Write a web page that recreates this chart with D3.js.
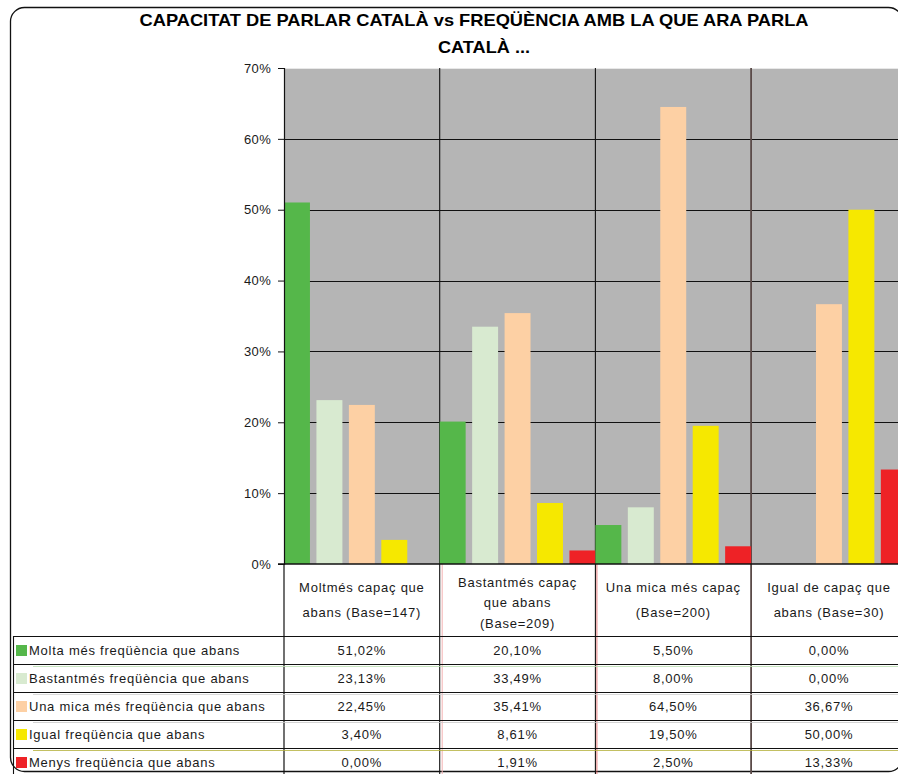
<!DOCTYPE html>
<html>
<head>
<meta charset="utf-8">
<script src="https://cdn.jsdelivr.net/npm/d3@7"></script>
<style>
  html, body { margin: 0; padding: 0; background: #fff; }
  svg { display: block; }
  text { font-family: "Liberation Sans", Arial, sans-serif; fill: #1a1a1a; }
</style>
</head>
<body>
<svg id="chart" width="898" height="774"></svg>
<script>
// ---------- DATA ----------
const titleLines = ["CAPACITAT DE PARLAR CATALÀ vs FREQÜÈNCIA AMB LA QUE ARA PARLA", "CATALÀ ..."];
const categories = ["Moltmés capaç que abans (Base=147)", "Bastantmés capaç que abans (Base=209)", "Una mica més capaç (Base=200)", "Igual de capaç que abans (Base=30)"];
const categoryLines = [
  ["Moltmés capaç que", "abans (Base=147)"],
  ["Bastantmés capaç", "que abans", "(Base=209)"],
  ["Una mica més capaç", "(Base=200)"],
  ["Igual de capaç que", "abans (Base=30)"]
];
const seriesNames = [
  "Molta més freqüència que abans",
  "Bastantmés freqüència que abans",
  "Una mica més freqüència que abans",
  "Igual freqüència que abans",
  "Menys freqüència que abans"
];
const moltaMes   = [51.02, 20.10, 5.50, 0.00];
const bastantMes = [23.13, 33.49, 8.00, 0.00];
const unaMicaMes = [22.45, 35.41, 64.50, 36.67];
const igual      = [3.40, 8.61, 19.50, 50.00];
const menys      = [0.00, 1.91, 2.50, 13.33];
const seriesValues = [moltaMes, bastantMes, unaMicaMes, igual, menys];
const yTicks = [0, 10, 20, 30, 40, 50, 60, 70];

// ---------- STYLE ----------
const seriesColors = ["#55b74a", "#d8ead0", "#fdd0a4", "#f6e800", "#ee2226"];
const plotBg = "#b5b5b5";
const bodyFont = "13px";
const bodySpacing = "0.75px";

// ---------- LAYOUT ----------
const svg = d3.select("#chart");
const plotLeft = 284, plotTop = 68, plotBottom = 564;
const colW = 155.7;
const plotRight = plotLeft + colW * categories.length;
const headerBottom = 636;
const rowH = 28;
const tableLeft = 13;

const y = d3.scaleLinear().domain([0, 70]).range([plotBottom, plotTop]);
const x0 = d3.scaleBand().domain(d3.range(categories.length)).range([plotLeft, plotRight]).padding(0);
const x1 = d3.scaleBand().domain(d3.range(seriesNames.length)).range([0, x0.bandwidth()]).paddingInner(0.2).paddingOuter(0);

const locale = d3.formatLocale({decimal: ",", thousands: ".", grouping: [3], currency: ["", "€"]});
const fmt = v => locale.format(".2f")(v) + "%";

// outer border
svg.append("rect")
  .attr("x", 10.5).attr("y", 7.5).attr("width", 892).attr("height", 764)
  .attr("rx", 14).attr("ry", 14)
  .attr("fill", "#fff").attr("stroke", "#111").attr("stroke-width", 1.3);

// title
const title = svg.append("text").attr("text-anchor", "middle")
  .style("font-size", "17px").style("font-weight", "bold").style("fill", "#000");
title.append("tspan").attr("x", 474).attr("y", 26).text(titleLines[0])
  .attr("textLength", 669).attr("lengthAdjust", "spacingAndGlyphs");
title.append("tspan").attr("x", 484).attr("y", 53).text(titleLines[1])
  .attr("textLength", 92).attr("lengthAdjust", "spacingAndGlyphs");

// plot background
svg.append("rect")
  .attr("x", plotLeft).attr("y", plotTop)
  .attr("width", plotRight - plotLeft).attr("height", plotBottom - plotTop)
  .attr("fill", plotBg);
svg.append("line").attr("x1", plotLeft).attr("x2", plotRight)
  .attr("y1", plotTop + 0.5).attr("y2", plotTop + 0.5)
  .attr("stroke", "#e8e8e8").attr("stroke-width", 1);

// horizontal gridlines
svg.append("g").selectAll("line")
  .data(yTicks.filter(t => t > 0 && t < 70))
  .join("line")
  .attr("x1", plotLeft).attr("x2", plotRight)
  .attr("y1", d => Math.round(y(d)) + 0.5).attr("y2", d => Math.round(y(d)) + 0.5)
  .attr("stroke", "#111").attr("stroke-width", 1);

// vertical category separators (plot + table)
svg.append("g").selectAll("line")
  .data(d3.range(1, categories.length))
  .join("line")
  .attr("x1", d => x0(d)).attr("x2", d => x0(d))
  .attr("y1", plotTop).attr("y2", 774)
  .attr("stroke", d => d === 3 ? "#5a4a48" : "#111")
  .attr("stroke-width", d => d === 3 ? 1.8 : 1.1);

// faint coloured table artefacts
svg.append("line").attr("x1", x0(1) + 2.5).attr("x2", x0(1) + 2.5)
  .attr("y1", plotBottom).attr("y2", 774).attr("stroke", "#f3b3b3").attr("stroke-width", 1);
svg.append("line").attr("x1", x0(2) + 1.5).attr("x2", x0(2) + 1.5)
  .attr("y1", plotBottom).attr("y2", 774).attr("stroke", "#e06060").attr("stroke-width", 0.8);

// bars
const groups = svg.append("g").selectAll("g")
  .data(categories.map((c, i) => i))
  .join("g")
  .attr("transform", i => `translate(${x0(i)},0)`);
groups.selectAll("rect")
  .data(i => seriesValues.map((vals, s) => ({s, v: vals[i]})))
  .join("rect")
  .attr("x", d => x1(d.s))
  .attr("width", x1.bandwidth())
  .attr("y", d => y(d.v))
  .attr("height", d => y(0) - y(d.v))
  .attr("fill", d => seriesColors[d.s]);

// y axis
const yAxis = d3.axisLeft(y).tickValues(yTicks).tickFormat(d => d + "%").tickSize(6).tickPadding(7);
const gy = svg.append("g").attr("transform", `translate(${plotLeft},0)`).call(yAxis);
gy.select(".domain").attr("stroke", "#111").attr("stroke-width", 1.2);
gy.selectAll(".tick line").attr("stroke", "#111");
gy.selectAll(".tick text").style("font-size", "13px").style("letter-spacing", "0.3px")
  .style("font-family", "'Liberation Sans', Arial, sans-serif").attr("fill", "#1a1a1a");

// left axis line extended through table
svg.append("line").attr("x1", plotLeft).attr("x2", plotLeft)
  .attr("y1", plotBottom).attr("y2", 774).attr("stroke", "#111").attr("stroke-width", 1.2);

// zero baseline
svg.append("line").attr("x1", plotLeft - 6).attr("x2", plotRight)
  .attr("y1", y(0)).attr("y2", y(0)).attr("stroke", "#111").attr("stroke-width", 1.4);

// category header labels
const catText = svg.append("g").selectAll("text")
  .data(categoryLines)
  .join("text")
  .attr("text-anchor", "middle")
  .style("font-size", bodyFont)
  .style("letter-spacing", bodySpacing);
catText.each(function(lines, i) {
  const cx = x0(i) + x0.bandwidth() / 2;
  const lh = lines.length === 3 ? 20.5 : 25;
  const mid = (plotBottom + headerBottom) / 2 + (lines.length === 3 ? 7 : 4);
  const start = mid - lh * (lines.length - 1) / 2;
  d3.select(this).selectAll("tspan").data(lines).join("tspan")
    .attr("x", cx).attr("y", (d, k) => start + k * lh).text(d => d);
});

// table horizontal lines
const rowLines = d3.range(seriesNames.length + 1).map(k => headerBottom + k * rowH);
svg.append("g").selectAll("line")
  .data(rowLines)
  .join("line")
  .attr("x1", tableLeft).attr("x2", plotRight)
  .attr("y1", d => d + 0.5).attr("y2", d => d + 0.5)
  .attr("stroke", "#111").attr("stroke-width", 1.1);
// subtle coloured under-lines
const underColors = ["#b9ddb0", "#cfcfcf", "#c8c8c8", "#b4b03a"];
svg.append("g").selectAll("line")
  .data(underColors)
  .join("line")
  .attr("x1", tableLeft + 20).attr("x2", plotRight)
  .attr("y1", (d, k) => headerBottom + (k + 1) * rowH + 2.5)
  .attr("y2", (d, k) => headerBottom + (k + 1) * rowH + 2.5)
  .attr("stroke", d => d).attr("stroke-width", 0.8);

// table left line
svg.append("line").attr("x1", tableLeft + 0.5).attr("x2", tableLeft + 0.5)
  .attr("y1", headerBottom).attr("y2", 774).attr("stroke", "#111").attr("stroke-width", 1.1);

// legend rows
const rows = svg.append("g").selectAll("g")
  .data(seriesNames.map((n, s) => s))
  .join("g")
  .attr("transform", s => `translate(0,${headerBottom + s * rowH})`);
rows.append("rect")
  .attr("x", 16).attr("y", 9).attr("width", 11).attr("height", 11)
  .attr("fill", s => seriesColors[s]);
rows.append("text")
  .attr("x", 29).attr("y", 19)
  .style("font-size", bodyFont)
  .style("letter-spacing", bodySpacing)
  .text(s => seriesNames[s]);
rows.selectAll("text.val")
  .data(s => seriesValues[s].map((v, i) => ({v, i})))
  .join("text")
  .attr("class", "val")
  .attr("x", d => x0(d.i) + x0.bandwidth() / 2)
  .attr("y", 19)
  .attr("text-anchor", "middle")
  .style("font-size", bodyFont)
  .style("letter-spacing", bodySpacing)
  .text(d => fmt(d.v));
</script>
</body>
</html>
